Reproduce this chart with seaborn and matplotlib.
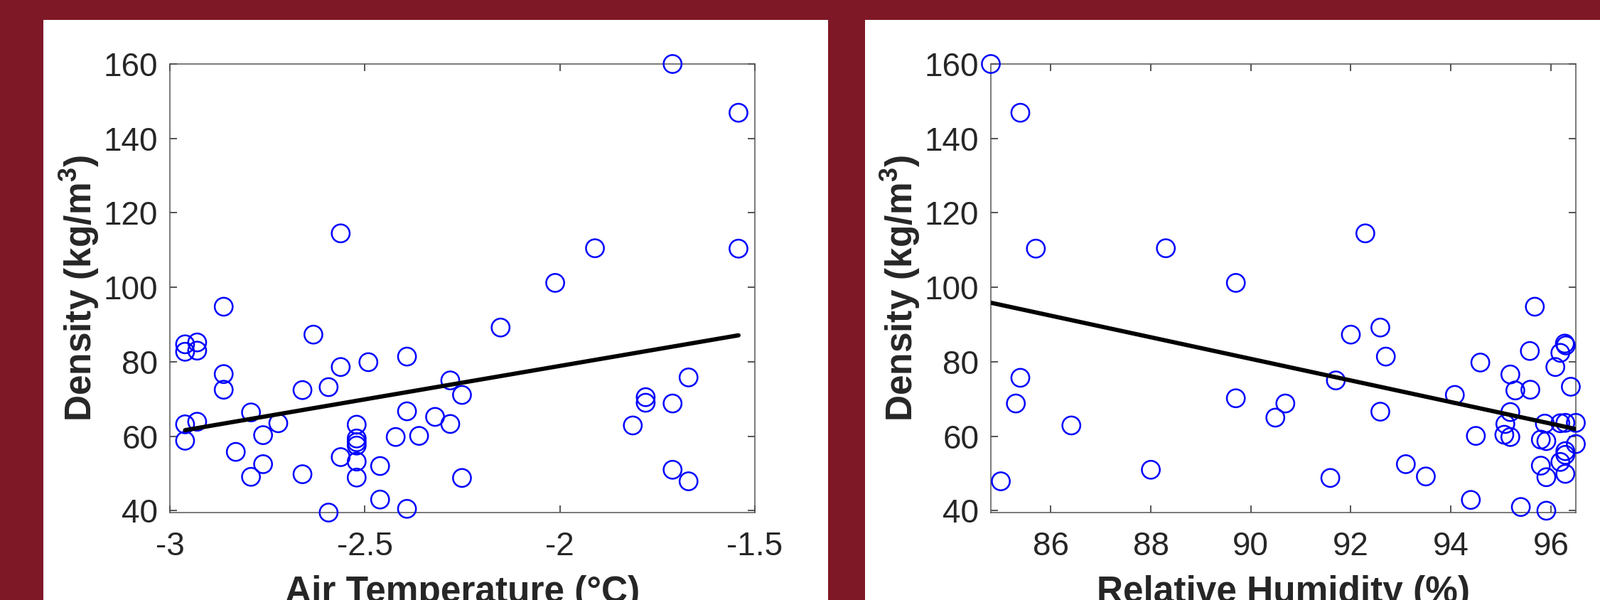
import numpy as np
import pandas as pd
import matplotlib
matplotlib.use('Agg')
import matplotlib.pyplot as plt
from matplotlib.patches import Rectangle
import seaborn as sns

# values
air_temp = [-1.711, -1.542, -2.562, -1.910, -1.542, -2.012, -2.862, -2.152, -2.632,
            -2.961, -2.930, -2.961, -2.930, -2.392, -2.491, -2.562, -2.862, -1.670,
            -2.281, -2.862, -2.660, -2.593, -2.251, -1.780, -1.780, -1.711, -2.792,
            -2.392, -2.320, -2.722, -2.961, -2.930, -2.521, -2.281, -1.813, -2.761,
            -2.421, -2.361, -2.521, -2.521, -2.521, -2.961, -2.831, -2.562, -2.521,
            -2.761, -2.461, -1.711, -2.660, -2.792, -2.521, -2.251, -1.670, -2.461,
            -2.392, -2.593]
density_t = [160.0, 146.9, 114.5, 110.5, 110.4, 101.2, 94.8, 89.2, 87.3,
             84.7, 85.2, 82.7, 83.0, 81.4, 79.9, 78.6, 76.7, 75.8,
             75.0, 72.5, 72.4, 73.2, 71.1, 70.5, 69.0, 68.8, 66.4,
             66.7, 65.2, 63.5, 63.2, 63.9, 63.1, 63.3, 62.9, 60.3,
             59.8, 60.1, 59.4, 58.4, 57.5, 58.8, 55.8, 54.4, 53.2,
             52.5, 52.0, 51.0, 49.8, 49.1, 48.9, 48.8, 47.9, 43.0,
             40.5, 39.5]

rel_hum = [84.80, 85.39, 85.70, 88.30, 92.29, 89.70, 95.68, 92.59, 92.00,
           96.28, 96.30, 95.58, 96.19, 92.70, 94.59, 96.09, 95.19, 85.39,
           91.70, 96.40, 95.29, 95.59, 94.08, 89.70, 85.30, 90.69, 92.59,
           95.19, 90.49, 95.09, 86.41, 95.88, 96.19, 96.29, 96.50, 94.50,
           95.07, 95.19, 95.80, 95.91, 96.50, 96.29, 96.29, 96.19, 93.10,
           95.80, 88.00, 95.91, 93.50, 91.59, 96.29, 85.00, 94.40, 95.40,
           95.91]
density_h = [160.0, 146.9, 110.4, 110.5, 114.5, 101.2, 94.8, 89.2, 87.3,
             84.9, 84.4, 82.9, 82.4, 81.4, 79.8, 78.6, 76.6, 75.7,
             75.0, 73.3, 72.3, 72.5, 71.1, 70.2, 68.8, 68.8, 66.6,
             66.5, 65.0, 63.3, 62.9, 63.4, 63.5, 63.6, 63.6, 60.1,
             60.4, 59.8, 59.1, 58.7, 57.9, 56.0, 55.0, 53.1, 52.5,
             52.1, 51.0, 49.0, 49.2, 48.8, 49.9, 47.9, 42.9, 41.0,
             40.0]

temp_ticks = [-3, -2.5, -2, -1.5]
temp_labels = ['-3', '-2.5', '-2', '-1.5']
hum_ticks = [86, 88, 90, 92, 94, 96]
dens_ticks = [40, 60, 80, 100, 120, 140, 160]

maroon = '#7e1827'
ink = '#262626'

sns.set_theme(style='ticks')
plt.rcParams['font.family'] = ['Liberation Sans', 'DejaVu Sans']
plt.rcParams['axes.unicode_minus'] = False
plt.rcParams['mathtext.fontset'] = 'custom'
plt.rcParams['mathtext.rm'] = 'Liberation Sans:bold'
plt.rcParams['mathtext.bf'] = 'Liberation Sans:bold'

fig = plt.figure(figsize=(22.51, 8.44), dpi=100, facecolor=maroon)

# white panels behind each plot
W, H = 2251, 844
for x0, x1 in [(61, 1165), (1217, 2251)]:
    fig.patches.append(Rectangle((x0 / W, 0), (x1 - x0) / W, (H - 28) / H,
                                 transform=fig.transFigure, facecolor='white',
                                 edgecolor='none', zorder=-5))

ax1 = fig.add_axes([239 / W, 123 / H, 823 / W, 631 / H])
ax2 = fig.add_axes([1394 / W, 123 / H, 823 / W, 631 / H])

df_t = pd.DataFrame({'temp': air_temp, 'dens': density_t})
df_h = pd.DataFrame({'rh': rel_hum, 'dens': density_h})

for ax, df, xcol in [(ax1, df_t, 'temp'), (ax2, df_h, 'rh')]:
    sns.scatterplot(data=df, x=xcol, y='dens', ax=ax, marker='o', s=330,
                    facecolor='none', edgecolor='blue', linewidth=1.8, zorder=3)
    sns.regplot(data=df, x=xcol, y='dens', ax=ax, scatter=False, ci=None,
                truncate=True, color='black', line_kws={'linewidth': 4.3, 'zorder': 4})

ax1.set_xlim(-3, -1.5)
ax1.set_xticks(temp_ticks)
ax1.set_xticklabels(temp_labels)
ax2.set_xlim(84.8, 96.5)
ax2.set_xticks(hum_ticks)

ax1.set_xlabel('Air Temperature (°C)')
ax2.set_xlabel('Relative Humidity (%)')

for ax in (ax1, ax2):
    ax.set_ylim(39.5, 160)
    ax.set_yticks(dens_ticks)
    ax.set_ylabel(r'Density (kg/m$^{\mathbf{3}}$)', fontsize=37, fontweight='bold',
                  color=ink, labelpad=3)
    ax.xaxis.label.set_fontsize(37)
    ax.xaxis.label.set_fontweight('bold')
    ax.xaxis.label.set_color(ink)
    ax.xaxis.labelpad = 13
    ax.set_facecolor('white')
    ax.tick_params(direction='in', length=7, width=1.1, color=ink,
                   labelsize=33, labelcolor=ink, top=True, right=True)
    ax.tick_params(axis='x', pad=19)
    ax.tick_params(axis='y', pad=12)
    for side in ['top', 'bottom', 'left', 'right']:
        ax.spines[side].set_visible(True)
        ax.spines[side].set_linewidth(1.1)
        ax.spines[side].set_color('#555555')
    for coll in ax.collections:
        coll.set_clip_on(False)

fig.savefig('out.png', dpi=100, facecolor=maroon)
